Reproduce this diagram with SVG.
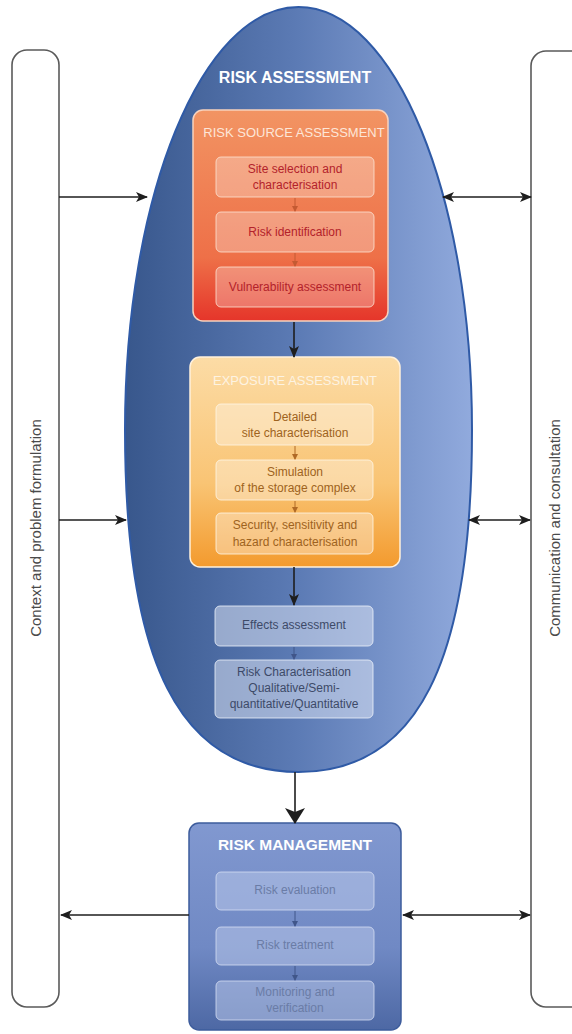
<svg xmlns="http://www.w3.org/2000/svg" width="572" height="1034" viewBox="0 0 572 1034">
<defs>
<linearGradient id="gEll" x1="0" y1="0" x2="1" y2="0">
<stop offset="0" stop-color="#38578c"/>
<stop offset="0.5" stop-color="#5c7bb5"/>
<stop offset="1" stop-color="#91aadd"/>
</linearGradient>
<linearGradient id="gRsa" x1="0" y1="0" x2="0" y2="1">
<stop offset="0" stop-color="#f29463"/>
<stop offset="0.7" stop-color="#ee7048"/>
<stop offset="1" stop-color="#e5352a"/>
</linearGradient>
<linearGradient id="gExp" x1="0" y1="0" x2="0" y2="1">
<stop offset="0" stop-color="#fcdca6"/>
<stop offset="0.6" stop-color="#f9c474"/>
<stop offset="1" stop-color="#f39a2e"/>
</linearGradient>
<linearGradient id="gRm" x1="0" y1="0" x2="0" y2="1">
<stop offset="0" stop-color="#8198d0"/>
<stop offset="0.6" stop-color="#7089c4"/>
<stop offset="1" stop-color="#4d68a4"/>
</linearGradient>
<marker id="ah" viewBox="0 0 12 10" refX="11" refY="5" markerWidth="12" markerHeight="10" markerUnits="userSpaceOnUse" orient="auto-start-reverse">
<path d="M0,0 L12,5 L0,10 L3,5 z" fill="#1e1e1e"/>
</marker>
<marker id="ahBig" viewBox="0 0 16 20" refX="15" refY="10" markerWidth="16" markerHeight="20" markerUnits="userSpaceOnUse" orient="auto">
<path d="M0,0 L16,10 L0,20 L4,10 z" fill="#1e1e1e"/>
</marker>
<marker id="ahR" viewBox="0 0 6 6" refX="5" refY="3" markerWidth="6" markerHeight="6" markerUnits="userSpaceOnUse" orient="auto">
<path d="M0,0 L6,3 L0,6 z" fill="#c45a32"/>
</marker>
<marker id="ahO" viewBox="0 0 6 6" refX="5" refY="3" markerWidth="6" markerHeight="6" markerUnits="userSpaceOnUse" orient="auto">
<path d="M0,0 L6,3 L0,6 z" fill="#b06a26"/>
</marker>
<marker id="ahB" viewBox="0 0 6 6" refX="5" refY="3" markerWidth="6" markerHeight="6" markerUnits="userSpaceOnUse" orient="auto">
<path d="M0,0 L6,3 L0,6 z" fill="#40568a"/>
</marker>
</defs>
<style>
text{font-family:"Liberation Sans","Open Sans",Arial,sans-serif;text-anchor:middle}
.bar{fill:#fff;stroke:#5a5a5a;stroke-width:1.6}
.barT{font-size:15px;fill:#4a4a4a}
.big{font-weight:bold;font-size:16px;fill:#fff}
.hdr{font-size:13px}
.sub{font-size:12px}
.rbox{fill:#fff;fill-opacity:0.28;stroke:#fde3d3;stroke-opacity:0.8;stroke-width:1}
.obox{fill:#fff;fill-opacity:0.35;stroke:#fff6e6;stroke-opacity:0.8;stroke-width:1}
.bbox{fill:#e4eaf8;fill-opacity:0.5;stroke:#eef2fb;stroke-opacity:0.8;stroke-width:1}
.mbox{fill:#b8c6ea;fill-opacity:0.55;stroke:#d4ddf3;stroke-opacity:0.8;stroke-width:1}
.conn{stroke:#1e1e1e;stroke-width:1.6;fill:none}
</style>
<rect width="572" height="1034" fill="#fff"/>

<g id="context">
<rect class="bar" x="12" y="50" width="47" height="957" rx="15"/>
<text class="barT" transform="translate(41,528) rotate(-90)">Context and problem formulation</text>
</g>
<g id="communication">
<rect class="bar" x="531" y="51" width="60" height="956" rx="15"/>
<text class="barT" transform="translate(560,528) rotate(-90)">Communication and consultation</text>
</g>

<g id="risk-assessment">
<path d="M125,430 C125,196 202,7 298.5,7 C395,7 472,196 472,430 C472,663 417,772 298.5,772 C180,772 125,663 125,430 Z" fill="url(#gEll)" stroke="#2f5aa6" stroke-width="2"/>
<text class="big" x="295" y="83">RISK ASSESSMENT</text>
</g>

<g id="risk-source-assessment">
<rect x="193" y="110" width="195" height="211" rx="10" fill="url(#gRsa)" stroke="#f8d2bd" stroke-width="1.5"/>
<text class="hdr" x="294" y="137" fill="#fde6d8">RISK SOURCE ASSESSMENT</text>
</g>
<g id="site-selection">
<rect class="rbox" x="216" y="157" width="158" height="40" rx="5"/>
<text class="sub" x="295" y="173" fill="#b3222b">Site selection and</text>
<text class="sub" x="295" y="189" fill="#b3222b">characterisation</text>
</g>
<g id="risk-identification">
<rect class="rbox" x="216" y="212" width="158" height="40" rx="5"/>
<text class="sub" x="295" y="236" fill="#b3222b">Risk identification</text>
</g>
<g id="vulnerability-assessment">
<rect class="rbox" x="216" y="267" width="158" height="40" rx="5"/>
<text class="sub" x="295" y="291" fill="#b3222b">Vulnerability assessment</text>
</g>

<g id="exposure-assessment">
<rect x="190" y="357" width="210" height="210" rx="10" fill="url(#gExp)" stroke="#fff1dc" stroke-width="1.5"/>
<text class="hdr" x="295" y="385" fill="#fdf3e2">EXPOSURE ASSESSMENT</text>
</g>
<g id="detailed-site">
<rect class="obox" x="216" y="404" width="157" height="41" rx="5"/>
<text class="sub" x="295" y="421" fill="#9e6320">Detailed</text>
<text class="sub" x="295" y="437" fill="#9e6320">site characterisation</text>
</g>
<g id="simulation">
<rect class="obox" x="216" y="460" width="157" height="40" rx="5"/>
<text class="sub" x="295" y="476" fill="#9e6320">Simulation</text>
<text class="sub" x="295" y="492" fill="#9e6320">of the storage complex</text>
</g>
<g id="security">
<rect class="obox" x="216" y="513" width="157" height="41" rx="5"/>
<text class="sub" x="295" y="529" fill="#9e6320">Security, sensitivity and</text>
<text class="sub" x="295" y="546" fill="#9e6320">hazard characterisation</text>
</g>

<g id="effects-assessment">
<rect class="bbox" x="215" y="606" width="158" height="40" rx="5"/>
<text class="sub" x="294" y="629" fill="#3d4a68">Effects assessment</text>
</g>
<g id="risk-characterisation">
<rect class="bbox" x="215" y="660" width="158" height="58" rx="5"/>
<text class="sub" x="294" y="676" fill="#3d4a68">Risk Characterisation</text>
<text class="sub" x="294" y="692" fill="#3d4a68">Qualitative/Semi-</text>
<text class="sub" x="294" y="708" fill="#3d4a68">quantitative/Quantitative</text>
</g>

<g id="risk-management">
<rect x="189" y="823" width="212" height="207" rx="10" fill="url(#gRm)" stroke="#3d5c9c" stroke-width="1.5"/>
<text class="big" x="295" y="850" style="font-size:15.5px">RISK MANAGEMENT</text>
</g>
<g id="risk-evaluation">
<rect class="mbox" x="216" y="872" width="158" height="38" rx="5"/>
<text class="sub" x="295" y="894" fill="#6a7ca6">Risk evaluation</text>
</g>
<g id="risk-treatment">
<rect class="mbox" x="216" y="927" width="158" height="38" rx="5"/>
<text class="sub" x="295" y="949" fill="#6a7ca6">Risk treatment</text>
</g>
<g id="monitoring">
<rect class="mbox" x="216" y="981" width="158" height="39" rx="5"/>
<text class="sub" x="295" y="996" fill="#6a7ca6">Monitoring and</text>
<text class="sub" x="295" y="1012" fill="#6a7ca6">verification</text>
</g>

<g id="connectors">
<line class="conn" x1="59" y1="197" x2="147" y2="197" marker-end="url(#ah)"/>
<line class="conn" x1="59" y1="520" x2="126" y2="520" marker-end="url(#ah)"/>
<line class="conn" x1="189" y1="915" x2="61" y2="915" marker-end="url(#ah)"/>
<line class="conn" x1="443" y1="197" x2="531" y2="197" marker-start="url(#ah)" marker-end="url(#ah)"/>
<line class="conn" x1="469" y1="520" x2="530" y2="520" marker-start="url(#ah)" marker-end="url(#ah)"/>
<line class="conn" x1="403" y1="915" x2="530" y2="915" marker-start="url(#ah)" marker-end="url(#ah)"/>
<line class="conn" x1="294" y1="322" x2="294" y2="357" marker-end="url(#ah)"/>
<line class="conn" x1="294" y1="567" x2="294" y2="605" marker-end="url(#ah)"/>
<line class="conn" x1="295" y1="772" x2="295" y2="823" marker-end="url(#ahBig)"/>
<line stroke="#c45a32" stroke-width="1" x1="295" y1="198" x2="295" y2="211" marker-end="url(#ahR)"/>
<line stroke="#c45a32" stroke-width="1" x1="295" y1="253" x2="295" y2="266" marker-end="url(#ahR)"/>
<line stroke="#b06a26" stroke-width="1" x1="295" y1="446" x2="295" y2="459" marker-end="url(#ahO)"/>
<line stroke="#b06a26" stroke-width="1" x1="295" y1="501" x2="295" y2="512" marker-end="url(#ahO)"/>
<line stroke="#40568a" stroke-width="1" x1="294" y1="647" x2="294" y2="659" marker-end="url(#ahB)"/>
<line stroke="#40568a" stroke-width="1" x1="295" y1="911" x2="295" y2="926" marker-end="url(#ahB)"/>
<line stroke="#40568a" stroke-width="1" x1="295" y1="966" x2="295" y2="980" marker-end="url(#ahB)"/>
</g>
</svg>
